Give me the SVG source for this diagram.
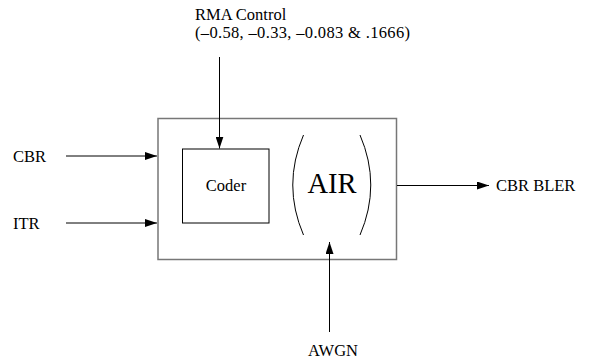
<svg xmlns="http://www.w3.org/2000/svg" width="591" height="360" viewBox="0 0 591 360">
<defs>
<style>
text{font-family:"Liberation Serif","Times New Roman",Times,serif;fill:#000}
.lbl{font-size:16.5px}
.ln{stroke:#000;stroke-width:1;fill:none}
</style>
<marker id="ah" markerWidth="12" markerHeight="8" refX="12" refY="4" orient="auto" markerUnits="userSpaceOnUse">
<path d="M0,0 L12,4 L0,8 Z" fill="#000"/>
</marker>
</defs>
<rect width="591" height="360" fill="#fff"/>
<g id="system">
<rect x="158" y="118.5" width="238.5" height="141" fill="none" stroke="#777" stroke-width="1.5"/>
</g>
<g id="coder">
<rect x="182.5" y="149" width="86.5" height="74" fill="none" stroke="#000" stroke-width="1"/>
<text class="lbl" x="226" y="191" text-anchor="middle">Coder</text>
</g>
<g id="air">
<path class="ln" d="M303.5,135 Q282,185 303.5,235"/>
<path class="ln" d="M360,135 Q381.5,185 360,235"/>
<text x="332" y="193" font-size="28.5" text-anchor="middle">AIR</text>
</g>
<g id="rma">
<text class="lbl" x="195" y="20">RMA Control</text>
<text class="lbl" x="195" y="38" textLength="215">(–0.58, –0.33, –0.083 &amp; .1666)</text>
</g>
<g id="cbr"><text class="lbl" x="13" y="162">CBR</text></g>
<g id="itr"><text class="lbl" x="13" y="229">ITR</text></g>
<g id="bler"><text class="lbl" x="496" y="191">CBR BLER</text></g>
<g id="awgn"><text class="lbl" x="308" y="356">AWGN</text></g>
<g id="connectors">
<line class="ln" x1="219.5" y1="57" x2="219.5" y2="148.5" marker-end="url(#ah)"/>
<line class="ln" x1="66" y1="156" x2="157" y2="156" marker-end="url(#ah)"/>
<line class="ln" x1="66" y1="223" x2="157" y2="223" marker-end="url(#ah)"/>
<line class="ln" x1="397" y1="185.5" x2="489" y2="185.5" marker-end="url(#ah)"/>
<line class="ln" x1="329.5" y1="332" x2="329.5" y2="242" marker-end="url(#ah)"/>
</g>
</svg>
